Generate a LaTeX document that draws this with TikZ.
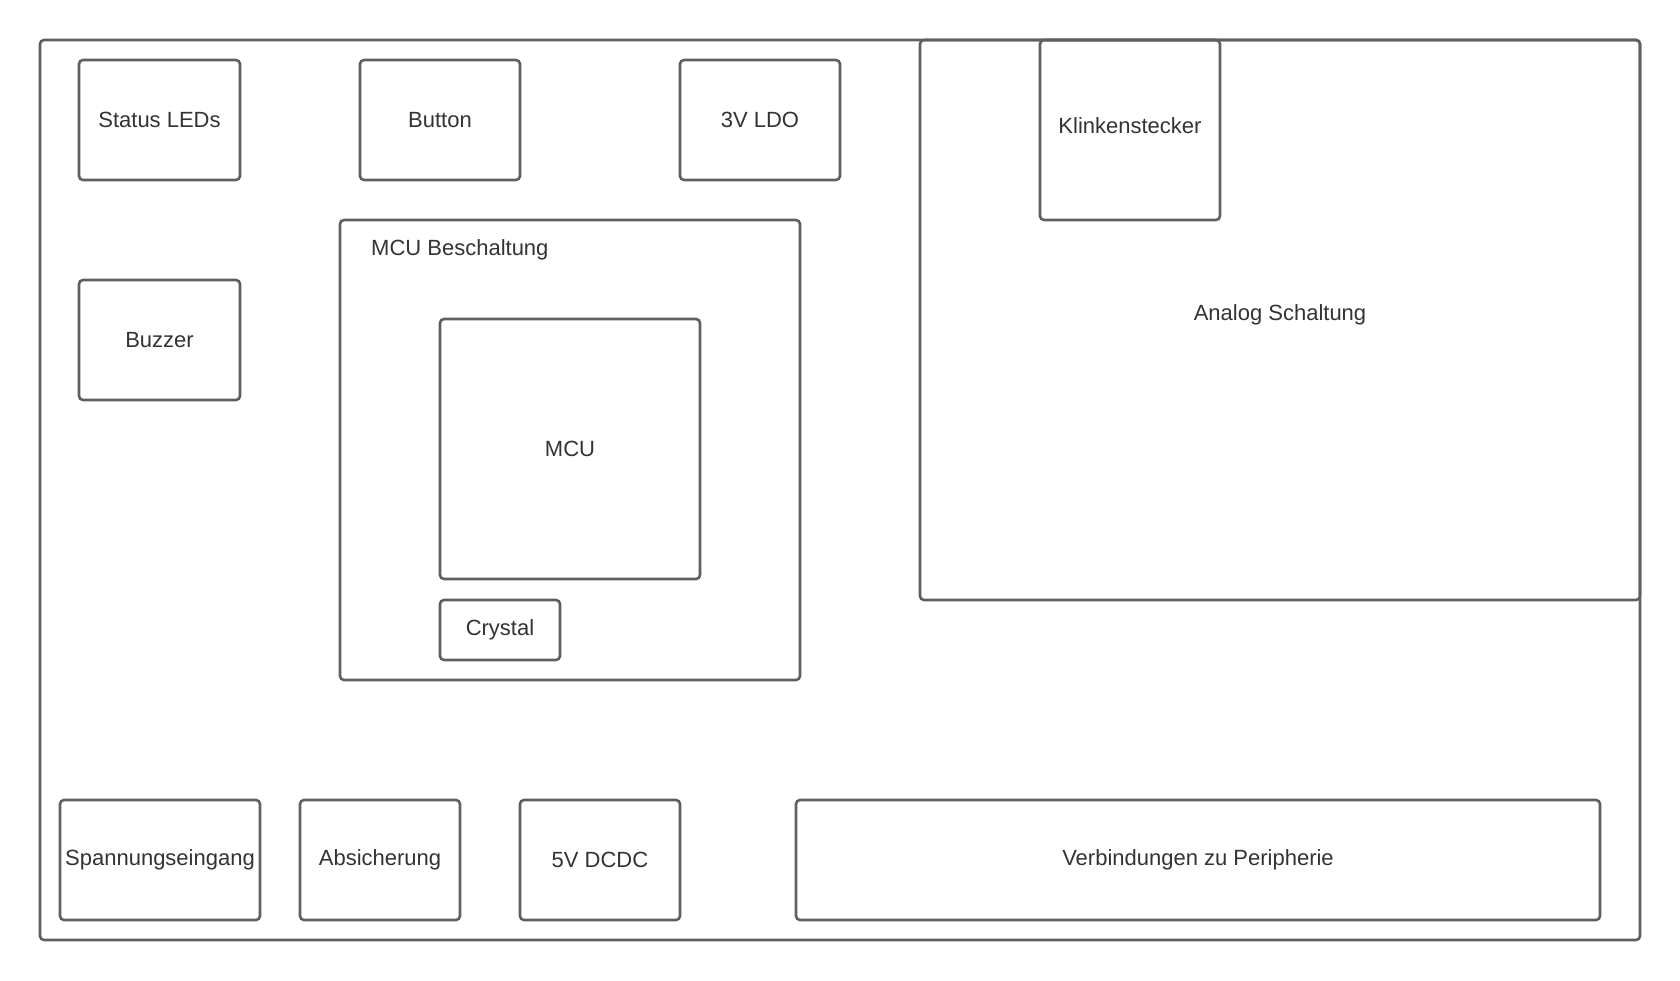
\documentclass[tikz,border=0pt]{standalone}
\usepackage{fontspec}
\setmainfont{Liberation Sans}
\definecolor{edge}{HTML}{5F5F5F}
\definecolor{txt}{HTML}{333333}
\tikzset{
  blk/.style={draw=edge, line width=2.6pt, rounded corners=4pt, inner sep=0pt,
    text=txt, font=\fontsize{22}{26}\selectfont, align=center},
  lbl/.style={text=txt, font=\fontsize{22}{26}\selectfont, inner sep=0pt}
}
\begin{document}
\begin{tikzpicture}[x=1pt,y=-1pt]
\useasboundingbox (0,0) rectangle (1680,980);
\fill[white] (0,0) rectangle (1680,980);
\node[blk, minimum width=1600pt, minimum height=900pt] (board) at (840,490) {};
\node[blk, minimum width=720pt, minimum height=560pt] (analog) at (1280,320) {};
\node[lbl] (analogl) at (1280,315) {Analog Schaltung};
\node[blk, minimum width=180pt, minimum height=180pt] (klinke) at (1130,130) {};
\node[lbl] (klinkel) at (1130,126) {Klinkenstecker};
\node[blk, minimum width=161pt, minimum height=120pt] (leds) at (159.5,120) {Status LEDs};
\node[blk, minimum width=160pt, minimum height=120pt] (button) at (440,120) {Button};
\node[blk, minimum width=160pt, minimum height=120pt] (ldo) at (760,120) {3V LDO};
\node[blk, minimum width=161pt, minimum height=120pt] (buzzer) at (159.5,340) {Buzzer};
\node[blk, minimum width=460pt, minimum height=460pt] (mcub) at (570,450) {};
\node[lbl, anchor=west] (mcubl) at (371,250) {MCU Beschaltung};
\node[blk, minimum width=260pt, minimum height=260pt] (mcu) at (570,449) {MCU};
\node[blk, minimum width=120pt, minimum height=60pt] (crystal) at (500,630) {Crystal};
\node[blk, minimum width=200pt, minimum height=120pt] (spann) at (160,860) {Spannungseingang};
\node[blk, minimum width=160pt, minimum height=120pt] (absich) at (380,860) {Absicherung};
\node[blk, minimum width=160pt, minimum height=120pt] (dcdc) at (600,860) {5V DCDC};
\node[blk, minimum width=804pt, minimum height=120pt] (verb) at (1198,860) {Verbindungen zu Peripherie};
\end{tikzpicture}
\end{document}
